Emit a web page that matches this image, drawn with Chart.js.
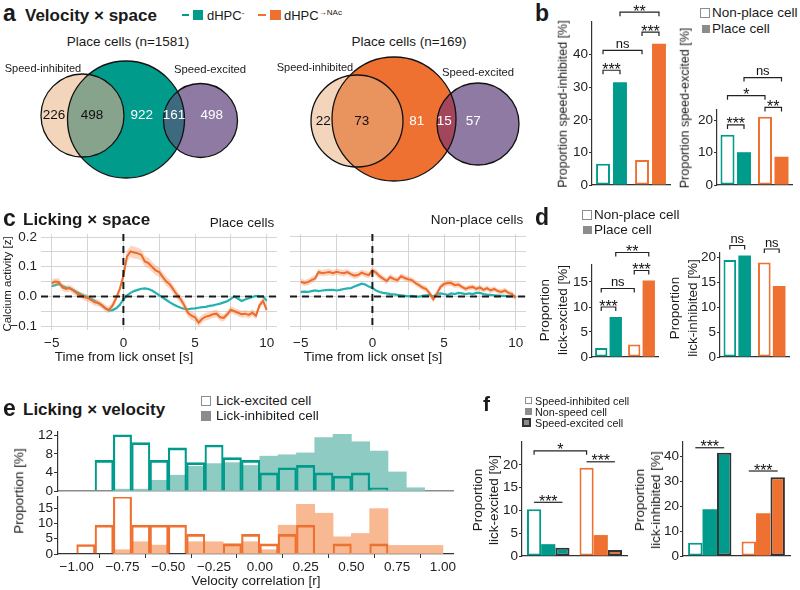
<!DOCTYPE html>
<html>
<head>
<meta charset="utf-8">
<script src="https://cdn.jsdelivr.net/npm/chart.js@4.4.1/dist/chart.umd.min.js"></script>
<style>
html, body { margin: 0; padding: 0; background: #fff; }
#fig { position: relative; width: 800px; height: 590px; overflow: hidden; background: #fff;
       font-family: 'Liberation Sans', Arial, sans-serif; color: #1a1a1a; }
#fig canvas { position: absolute; }
.tx { position: absolute; white-space: nowrap; line-height: 1; text-align: center; }
.tx sup { font-size: 62%; vertical-align: 0.55em; line-height: 0; }
.sq { position: absolute; box-sizing: border-box; }
</style>
</head>
<body>
<div id="fig"></div>
<script>
// ---- data ----
const groups = ['dHPC-', 'dHPC→NAc'];

// a: venn counts [inh only, inh∩place, place only, place∩exc, exc only]
const vennDhpc = [226, 498, 922, 161, 498];
const vennNac = [22, 73, 81, 15, 57];

// b: speed modulation [%]
const speedInhNonPlace = [6.5, 7.7];
const speedInhPlace = [31.5, 43.3];
const speedExcNonPlace = [15.5, 21.0];
const speedExcPlace = [10.1, 8.7];
const bTicksL = [0, 10, 20, 30, 40];
const bTicksR = [0, 10, 20];

// c: calcium traces around lick onset
const cTime = [
  -5, -4.75, -4.5, -4.25, -4, -3.75, -3.5, -3.25, -3, -2.75,
  -2.5, -2.25, -2, -1.75, -1.5, -1.25, -1, -0.75, -0.5, -0.25,
  0, 0.25, 0.5, 0.75, 1, 1.25, 1.5, 1.75, 2, 2.25,
  2.5, 2.75, 3, 3.25, 3.5, 3.75, 4, 4.25, 4.5, 4.75,
  5, 5.25, 5.5, 5.75, 6, 6.25, 6.5, 6.75, 7, 7.25,
  7.5, 7.75, 8, 8.25, 8.5, 8.75, 9, 9.25, 9.5, 9.75,
  10];
const cPlaceTeal = [
  0.035, 0.038, 0.042, 0.035, 0.030, 0.028, 0.022, 0.015, 0.008, 0.003,
  -0.002, -0.008, -0.015, -0.022, -0.030, -0.040, -0.048, -0.046, -0.040, -0.028,
  -0.010, 0.004, 0.012, 0.018, 0.022, 0.026, 0.027, 0.025, 0.020, 0.012,
  0.004, -0.004, -0.012, -0.020, -0.027, -0.033, -0.038, -0.042, -0.043, -0.041,
  -0.040, -0.038, -0.036, -0.035, -0.032, -0.030, -0.027, -0.024, -0.020, -0.016,
  -0.008, 0.000, -0.008, -0.015, -0.010, -0.006, -0.002, 0.002, 0.000, 0.000,
  -0.015];
const cPlaceOrange = [
  0.045, 0.050, 0.048, 0.030, 0.025, 0.028, 0.020, 0.010, 0.005, -0.002,
  -0.005, -0.012, -0.020, -0.022, -0.030, -0.040, -0.045, -0.030, -0.005, 0.025,
  0.070, 0.135, 0.152, 0.148, 0.145, 0.140, 0.118, 0.112, 0.100, 0.088,
  0.082, 0.065, 0.050, 0.040, 0.022, 0.005, -0.010, -0.030, -0.055, -0.065,
  -0.070, -0.088, -0.075, -0.068, -0.065, -0.060, -0.058, -0.070, -0.072, -0.060,
  -0.045, -0.050, -0.055, -0.060, -0.058, -0.062, -0.055, -0.065, -0.030, -0.015,
  -0.045];
const cPlaceSem = [
  0.012, 0.012, 0.013, 0.012, 0.012, 0.011, 0.012, 0.012, 0.011, 0.012,
  0.012, 0.011, 0.012, 0.012, 0.011, 0.012, 0.011, 0.012, 0.012, 0.013,
  0.015, 0.018, 0.020, 0.020, 0.019, 0.019, 0.018, 0.018, 0.017, 0.017,
  0.016, 0.016, 0.016, 0.015, 0.015, 0.015, 0.015, 0.015, 0.014, 0.014,
  0.014, 0.014, 0.014, 0.013, 0.013, 0.013, 0.013, 0.013, 0.012, 0.012,
  0.012, 0.012, 0.012, 0.012, 0.012, 0.012, 0.012, 0.012, 0.012, 0.012,
  0.012];
const cNonTeal = [
  0.015, 0.016, 0.015, 0.018, 0.020, 0.018, 0.020, 0.021, 0.022, 0.022,
  0.020, 0.022, 0.025, 0.027, 0.028, 0.033, 0.038, 0.043, 0.040, 0.033,
  0.028, 0.020, 0.015, 0.012, 0.010, 0.008, 0.007, 0.005, 0.004, 0.002,
  0.000, 0.002, 0.000, -0.001, 0.002, 0.004, 0.005, 0.000, 0.008, 0.010,
  0.008, 0.005, 0.010, 0.008, 0.012, 0.010, 0.008, 0.010, 0.008, 0.012,
  0.012, 0.008, 0.006, 0.005, 0.004, 0.003, 0.002, 0.002, 0.000, 0.001,
  0.000];
const cNonOrange = [
  0.050, 0.045, 0.048, 0.055, 0.060, 0.082, 0.078, 0.080, 0.082, 0.078,
  0.083, 0.080, 0.078, 0.082, 0.075, 0.070, 0.072, 0.080, 0.075, 0.072,
  0.088, 0.080, 0.068, 0.060, 0.052, 0.065, 0.058, 0.055, 0.068, 0.062,
  0.058, 0.055, 0.045, 0.038, 0.030, 0.025, 0.010, -0.010, 0.010, 0.032,
  0.042, 0.045, 0.045, 0.038, 0.040, 0.032, 0.025, 0.030, 0.032, 0.025,
  0.030, 0.022, 0.028, 0.020, 0.025, 0.018, 0.015, 0.020, 0.012, 0.008,
  -0.005];
const cNonSem = [
  0.010, 0.010, 0.011, 0.011, 0.011, 0.011, 0.010, 0.011, 0.011, 0.010,
  0.010, 0.011, 0.011, 0.010, 0.010, 0.011, 0.011, 0.010, 0.011, 0.011,
  0.011, 0.011, 0.011, 0.010, 0.010, 0.011, 0.010, 0.010, 0.010, 0.010,
  0.010, 0.010, 0.010, 0.010, 0.010, 0.010, 0.010, 0.010, 0.010, 0.010,
  0.010, 0.010, 0.010, 0.010, 0.010, 0.009, 0.009, 0.009, 0.009, 0.009,
  0.009, 0.009, 0.009, 0.009, 0.009, 0.009, 0.009, 0.009, 0.009, 0.009,
  0.009];
const cTicksX = [-5, -2.5, 0, 2.5, 5, 7.5, 10];
const cTicksY = [-0.1, -0.05, 0, 0.05, 0.1, 0.15, 0.2];

// d: lick modulation [%]
const lickExcNonPlace = [1.8, 2.5];
const lickExcPlace = [8.0, 15.3];
const lickInhNonPlace = [19.4, 18.9];
const lickInhPlace = [20.3, 14.2];
const dTicksL = [0, 5, 10, 15];
const dTicksR = [0, 5, 10, 15, 20];

// e: histograms of velocity correlation (bin centres, width 0.1)
const eBins = [-0.95, -0.85, -0.75, -0.65, -0.55, -0.45, -0.35, -0.25, -0.15, -0.05,
               0.05, 0.15, 0.25, 0.35, 0.45, 0.55, 0.65, 0.75, 0.85, 0.95];
const eTealExc = [0, 6.6, 12.1, 10.4, 6.6, 9.3, 6.1, 9.9, 7.2, 6.6,
                  3.9, 5.0, 5.5, 3.9, 3.2, 3.9, 0.7, 0, 0, 0];
const eTealInh = [0, 0, 0.4, 0.4, 2.3, 3.4, 5.3, 5.9, 6.1, 5.5,
                  7.5, 7.8, 8.2, 11.5, 12.2, 10.6, 8.6, 4.1, 0.7, 0];
const eOrangeExc = [3.1, 9.4, 18.9, 9.4, 9.4, 9.4, 6.4, 0, 3.3, 6.4,
                    3.3, 6.4, 9.4, 0, 3.3, 0, 3.3, 0, 0, 0];
const eOrangeInh = [0, 0, 1.4, 4.0, 2.9, 0, 4.0, 4.0, 3.4, 4.0,
                    1.4, 9.4, 16.2, 13.3, 5.6, 6.7, 14.8, 2.8, 2.8, 2.8];
const eTicksX = [-1, -0.75, -0.5, -0.25, 0, 0.25, 0.5, 0.75, 1];
const eTicksTop = [0, 4, 8, 12];
const eTicksBot = [0, 5, 10, 15];

// f: lick modulation by speed class [%]
const fExcSpeedInh = [10.3, 19.4];
const fExcNonSpeed = [2.6, 4.6];
const fExcSpeedExc = [1.8, 1.3];
const fInhSpeedInh = [5.3, 5.8];
const fInhNonSpeed = [18.7, 17.1];
const fInhSpeedExc = [41.3, 31.5];
const fTicksL = [0, 5, 10, 15, 20];
const fTicksR = [0, 10, 20, 30, 40];

// ---- styles ----
const teal = '#009b8b', orange = '#ef7131';
const tealFill = '#8ecbc3', orangeFill = '#f7b892';
const tealLine = '#22b3b1', orangeLine = '#ee6b2b';
const band = 'rgba(244,150,95,0.38)';
const axisCol = '#333', gridCol = '#d5d5d8', legendGray = '#8c8c8c';
const pair = [teal, orange];

Chart.defaults.font.family = "'Liberation Sans', Arial, sans-serif";
Chart.defaults.font.size = 13.5;
Chart.defaults.color = '#222';

const fig = document.getElementById('fig');

function T(html, x, y, o = {}) {
  const d = document.createElement('div');
  d.className = 'tx';
  d.innerHTML = html;
  d.style.fontSize = (o.size || 13.5) + 'px';
  if (o.bold) d.style.fontWeight = 'bold';
  if (o.lh) d.style.lineHeight = o.lh + 'px';
  d.style.left = x + 'px';
  d.style.top = y + 'px';
  const ax = o.align === 'l' ? '0' : o.align === 'r' ? '-100%' : '-50%';
  d.style.transform = `translate(${ax}, -50%)` + (o.rot ? ' rotate(-90deg)' : '');
  fig.appendChild(d);
}

function sq(x, y, w, h, bg, border) {
  const d = document.createElement('div');
  d.className = 'sq';
  d.style.cssText += `left:${x}px;top:${y}px;width:${w}px;height:${h}px;background:${bg};` + (border ? `border:${border};` : '');
  fig.appendChild(d);
}

function place(area, pad) {
  const [x0, y0, x1, y1] = area, [pl, pt, pr, pb] = pad;
  const cv = document.createElement('canvas');
  cv.width = x1 - x0 + pl + pr;
  cv.height = y1 - y0 + pt + pb;
  cv.style.left = (x0 - pl) + 'px';
  cv.style.top = (y0 - pt) + 'px';
  fig.appendChild(cv);
  return cv;
}

function baseOpts(pad) {
  return {
    responsive: false, animation: false, events: [],
    layout: { padding: { left: 0, top: pad[1], right: pad[2], bottom: 0 } },
    plugins: { legend: { display: false }, tooltip: { enabled: false } }
  };
}

const minus = v => (v < -1e-9 ? '−' : '');

// significance brackets, anchored on bar elements
function sigPlugin(marks) {
  return {
    id: 'sig',
    afterDatasetsDraw(chart) {
      const ctx = chart.ctx, y = chart.scales.y;
      ctx.save();
      ctx.strokeStyle = '#222';
      ctx.lineWidth = 1.2;
      ctx.fillStyle = '#111';
      ctx.textAlign = 'center';
      ctx.textBaseline = 'alphabetic';
      marks.forEach(m => {
        const xa = chart.getDatasetMeta(m.a[0]).data[m.a[1]].x;
        const xb = chart.getDatasetMeta(m.b[0]).data[m.b[1]].x;
        const yy = y.getPixelForValue(m.y);
        ctx.beginPath();
        if (m.tick !== false) {
          ctx.moveTo(xa, yy + 4); ctx.lineTo(xa, yy); ctx.lineTo(xb, yy); ctx.lineTo(xb, yy + 4);
        } else {
          ctx.moveTo(xa, yy); ctx.lineTo(xb, yy);
        }
        ctx.stroke();
        if (m.t === 'ns') {
          ctx.font = "13px 'Liberation Sans', Arial";
          ctx.fillText(m.t, (xa + xb) / 2, yy - 2.5);
        } else {
          ctx.font = "16px 'Liberation Sans', Arial";
          ctx.fillText(m.t, (xa + xb) / 2, yy + 4.5);
        }
      });
      ctx.restore();
    }
  };
}

function barChart(area, pad, cfg) {
  const cv = place(area, pad);
  return new Chart(cv, {
    type: 'bar',
    data: { labels: groups, datasets: cfg.sets },
    options: {
      ...baseOpts(pad),
      datasets: { bar: { categoryPercentage: cfg.cp, barPercentage: cfg.bp } },
      scales: {
        x: {
          offset: true,
          grid: { display: false },
          ticks: { display: false },
          border: { color: axisCol, width: 1.2 },
          afterFit: s => { s.height = pad[3]; }
        },
        y: {
          min: 0, max: cfg.max,
          afterBuildTicks: s => { s.ticks = cfg.ticks.map(v => ({ value: v })); },
          ticks: { padding: 1, autoSkip: false, callback: v => String(v) },
          grid: { drawOnChartArea: false, tickLength: 3, color: axisCol },
          border: { color: axisCol, width: 1.2 },
          afterFit: s => { s.width = pad[0]; }
        }
      }
    },
    plugins: [sigPlugin(cfg.marks)]
  });
}

const outlineSet = vals => ({ data: vals, backgroundColor: '#fff', borderColor: pair, borderWidth: 2, borderSkipped: false });
const solidSet = vals => ({ data: vals, backgroundColor: pair, borderWidth: 0 });
const rimSet = vals => ({ data: vals, backgroundColor: pair, borderColor: '#333', borderWidth: 2, borderSkipped: false });

// dashed zero lines for the traces
const zeroLines = {
  id: 'zero',
  afterDatasetsDraw(chart) {
    const { ctx, chartArea: a, scales: { x, y } } = chart;
    const py = y.getPixelForValue(0), px = x.getPixelForValue(0);
    ctx.save();
    ctx.strokeStyle = '#1a1a1a';
    ctx.lineWidth = 2;
    ctx.setLineDash([7, 5]);
    ctx.beginPath();
    ctx.moveTo(a.left, py); ctx.lineTo(a.right, py);
    ctx.moveTo(px, a.top); ctx.lineTo(px, a.bottom);
    ctx.stroke();
    ctx.restore();
  }
};

function traceChart(area, pad, tealVals, orangeVals, sem, showY) {
  const cv = place(area, pad);
  const pts = f => cTime.map((t, i) => ({ x: t, y: f(i) }));
  const clear = 'rgba(0,0,0,0)';
  return new Chart(cv, {
    type: 'line',
    data: {
      datasets: [
        { data: pts(i => orangeVals[i]), borderColor: orangeLine, borderWidth: 2, pointRadius: 0, fill: false },
        { data: pts(i => orangeVals[i] + sem[i]), borderColor: clear, borderWidth: 0, pointRadius: 0, backgroundColor: band, fill: '+1' },
        { data: pts(i => orangeVals[i] - sem[i]), borderColor: clear, borderWidth: 0, pointRadius: 0, fill: false },
        { data: pts(i => tealVals[i]), borderColor: tealLine, borderWidth: 2.2, pointRadius: 0, fill: false }
      ]
    },
    options: {
      ...baseOpts(pad),
      scales: {
        x: {
          type: 'linear', min: -5.75, max: 10.72,
          afterBuildTicks: s => { s.ticks = cTicksX.map(v => ({ value: v })); },
          ticks: { padding: 5, autoSkip: false, maxRotation: 0,
                   callback: v => (v % 5 === 0 ? minus(v) + Math.abs(v) : '') },
          grid: { color: gridCol, drawTicks: false },
          border: { display: false },
          afterFit: s => { s.height = pad[3]; }
        },
        y: {
          min: -0.113, max: 0.21,
          afterBuildTicks: s => { s.ticks = cTicksY.map(v => ({ value: v })); },
          ticks: { display: showY, padding: 4, autoSkip: false,
                   callback: v => (Math.abs(Math.round(v * 10) - v * 10) < 1e-6 ? minus(v) + Math.abs(v).toFixed(1) : '') },
          grid: { color: gridCol, drawTicks: false },
          border: { display: false },
          afterFit: s => { s.width = pad[0]; }
        }
      }
    },
    plugins: [zeroLines]
  });
}

function histChart(area, pad, exc, inh, edge, fillCol, max, ticksY, bottom) {
  const cv = place(area, pad);
  const pts = arr => eBins.map((b, i) => ({ x: b, y: arr[i] || null }));
  return new Chart(cv, {
    type: 'bar',
    data: {
      datasets: [
        { data: pts(exc), backgroundColor: 'rgba(0,0,0,0)', borderColor: edge,
          borderWidth: { top: 2, left: 1.5, right: 1.5, bottom: 0 }, borderSkipped: 'start' },
        { data: pts(inh), backgroundColor: fillCol, borderWidth: 0 }
      ]
    },
    options: {
      ...baseOpts(pad),
      datasets: { bar: { grouped: false, categoryPercentage: 1, barPercentage: 1 } },
      scales: {
        x: {
          type: 'linear', min: -1.102, max: 1.055, offset: false,
          afterBuildTicks: s => { s.ticks = eTicksX.map(v => ({ value: v })); },
          ticks: { display: bottom, padding: 1, autoSkip: false, maxRotation: 0,
                   callback: v => minus(v) + Math.abs(v).toFixed(2) },
          grid: { display: bottom, drawOnChartArea: false, tickLength: 4, color: axisCol },
          border: { color: bottom ? axisCol : '#8a8a8a', width: bottom ? 1.2 : 1.6 },
          afterFit: s => { s.height = pad[3]; }
        },
        y: {
          min: 0, max: max,
          afterBuildTicks: s => { s.ticks = ticksY.map(v => ({ value: v })); },
          ticks: { padding: 1, autoSkip: false, callback: v => String(v) },
          grid: { drawOnChartArea: false, tickLength: 4, color: axisCol },
          border: { color: axisCol, width: 1.2 },
          afterFit: s => { s.width = pad[0]; }
        }
      }
    }
  });
}

function vennPlugin(geo, counts) {
  return {
    id: 'venn',
    afterDraw(chart) {
      const { ctx, scales: { x, y } } = chart;
      const C = geo.circles.map(c => ({
        px: x.getPixelForValue(c.cx), py: y.getPixelForValue(c.cy),
        r: x.getPixelForValue(c.cx + c.r) - x.getPixelForValue(c.cx)
      }));
      const path = c => { ctx.beginPath(); ctx.arc(c.px, c.py, c.r, 0, 2 * Math.PI); };
      ctx.save();
      C.forEach((c, i) => { path(c); ctx.fillStyle = geo.fills[i]; ctx.fill(); });
      [[0, 1], [1, 2]].forEach(([a, b], k) => {
        ctx.save(); path(C[a]); ctx.clip();
        path(C[b]); ctx.fillStyle = geo.overlaps[k]; ctx.fill();
        ctx.restore();
      });
      ctx.strokeStyle = '#111';
      ctx.lineWidth = 1.3;
      C.forEach(c => { path(c); ctx.stroke(); });
      ctx.font = "13.5px 'Liberation Sans', Arial";
      ctx.textAlign = 'center';
      ctx.textBaseline = 'middle';
      counts.forEach((n, i) => {
        ctx.fillStyle = geo.textColors[i];
        ctx.fillText(String(n), x.getPixelForValue(geo.labelX[i]), y.getPixelForValue(geo.labelY));
      });
      ctx.restore();
    }
  };
}

function vennChart(box, geo, counts) {
  const cv = place(box, [0, 0, 0, 0]);
  return new Chart(cv, {
    type: 'scatter',
    data: { datasets: [] },
    options: {
      ...baseOpts([0, 0, 0, 0]),
      scales: {
        x: { display: false, min: box[0], max: box[2] },
        y: { display: false, min: box[1], max: box[3], reverse: true }
      }
    },
    plugins: [vennPlugin(geo, counts)]
  });
}

// ---- panel a ----
const vennText = ['#111', '#111', '#fff', '#fff', '#fff'];
vennChart([0, 50, 272, 200], {
  circles: [{ cx: 82.5, cy: 115.5, r: 41.5 }, { cx: 126, cy: 119.5, r: 58.5 }, { cx: 200.5, cy: 120.5, r: 37 }],
  fills: ['#f3d5bb', teal, '#8e7aa2'], overlaps: ['#87a38b', '#3c6b80'],
  labelX: [54, 92, 141.7, 174, 211.7], labelY: 115, textColors: vennText
}, vennDhpc);
vennChart([274, 50, 540, 200], {
  circles: [{ cx: 357, cy: 121, r: 46 }, { cx: 394, cy: 119, r: 62 }, { cx: 478, cy: 124, r: 41 }],
  fills: ['#f3d5bb', orange, '#8e7aa2'], overlaps: ['#e9935e', '#a3465c'],
  labelX: [323.3, 361.7, 416.7, 444.3, 473.3], labelY: 121, textColors: vennText
}, vennNac);

T('a', 3, 13, { size: 23, bold: true, align: 'l' });
T('Velocity × space', 25, 15, { size: 17, bold: true, align: 'l' });
sq(182, 14, 7, 2, teal); sq(193, 10, 10, 10, teal);
T('dHPC<sup>-</sup>', 207, 15, { align: 'l', size: 13 });
sq(258, 14, 8, 2, orange); sq(270, 10, 11, 10, orange);
T('dHPC<sup>→NAc</sup>', 284, 15, { align: 'l', size: 13 });
T('Place cells (n=1581)', 128, 42);
T('Place cells (n=169)', 409, 42);
T('Speed-inhibited', 43, 68, { size: 11 });
T('Speed-excited', 210, 69.5, { size: 11.3 });
T('Speed-inhibited', 315, 67, { size: 11 });
T('Speed-excited', 478, 72.5, { size: 11.3 });

// ---- panel b ----
barChart([592, 22, 670, 185], [30, 20, 8, 12], {
  sets: [outlineSet(speedInhNonPlace), solidSet(speedInhPlace)],
  max: 50, ticks: bTicksL, cp: 0.87, bp: 0.82,
  marks: [
    { a: [0, 0], b: [1, 0], y: 35.2, t: '***' },
    { a: [0, 0], b: [0, 1], y: 41.3, t: 'ns' },
    { a: [0, 1], b: [1, 1], y: 46.9, t: '***' },
    { a: [1, 0], b: [1, 1], y: 53, t: '**' }
  ]
});
barChart([717, 110, 792, 185], [30, 45, 6, 12], {
  sets: [outlineSet(speedExcNonPlace), solidSet(speedExcPlace)],
  max: 23.1, ticks: bTicksR, cp: 0.88, bp: 0.85,
  marks: [
    { a: [0, 0], b: [1, 0], y: 18.5, t: '***' },
    { a: [0, 1], b: [1, 1], y: 23.9, t: '**' },
    { a: [0, 0], b: [0, 1], y: 27.5, t: '*' },
    { a: [1, 0], b: [1, 1], y: 33.1, t: 'ns' }
  ]
});
T('b', 535, 13, { size: 23, bold: true, align: 'l' });
sq(700, 8, 10, 10, '#fff', '1.6px solid ' + legendGray);
T('Non-place cell', 712, 13, { align: 'l' });
sq(702, 25, 8, 8, legendGray);
T('Place cell', 712, 29, { align: 'l' });
T('Proportion speed-inhibited [%]', 562.5, 104, { rot: true, size: 12.5 });
T('Proportion speed-excited [%]', 685, 108, { rot: true, size: 12.5 });

// ---- panel c ----
traceChart([41, 234, 277, 330], [41, 12, 12, 22], cPlaceTeal, cPlaceOrange, cPlaceSem, true);
traceChart([290, 234, 526, 330], [4, 12, 12, 22], cNonTeal, cNonOrange, cNonSem, false);
T('c', 3, 218, { size: 23, bold: true, align: 'l' });
T('Licking × space', 23, 219, { size: 17, bold: true, align: 'l' });
T('Place cells', 242, 223);
T('Non-place cells', 477, 220);
T('Calcium activity [z]', 8, 284, { rot: true, size: 11.5 });
T('Time from lick onset [s]', 124, 357);
T('Time from lick onset [s]', 373, 357);

// ---- panel d ----
barChart([592, 265, 658, 357], [30, 25, 6, 12], {
  sets: [outlineSet(lickExcNonPlace), solidSet(lickExcPlace)],
  max: 18.4, ticks: dTicksL, cp: 0.88, bp: 0.85,
  marks: [
    { a: [0, 0], b: [1, 0], y: 10.0, t: '***' },
    { a: [0, 0], b: [0, 1], y: 13.7, t: 'ns' },
    { a: [0, 1], b: [1, 1], y: 17.3, t: '***' },
    { a: [1, 0], b: [1, 1], y: 20.9, t: '**' }
  ]
});
barChart([720, 253, 789, 357], [30, 25, 8, 12], {
  sets: [outlineSet(lickInhNonPlace), solidSet(lickInhPlace)],
  max: 20.8, ticks: dTicksR, cp: 0.86, bp: 0.85,
  marks: [
    { a: [0, 0], b: [1, 0], y: 22.3, t: 'ns' },
    { a: [0, 1], b: [1, 1], y: 21.6, t: 'ns' }
  ]
});
T('d', 535, 217, { size: 23, bold: true, align: 'l' });
sq(582, 210, 10, 10, '#fff', '1.6px solid ' + legendGray);
T('Non-place cell', 594, 214.5, { align: 'l' });
sq(583, 226, 9, 8, legendGray);
T('Place cell', 594, 230, { align: 'l' });
T('Proportion<br>lick-excited [%]', 554, 310, { rot: true, lh: 18 });
T('Proportion<br>lick-inhibited [%]', 684, 308, { rot: true, lh: 18 });

// ---- panel e ----
histChart([58, 432, 453, 491], [40, 12, 12, 10], eTealExc, eTealInh, teal, tealFill, 12.7, eTicksTop, false);
histChart([58, 497, 453, 554], [40, 12, 12, 20], eOrangeExc, eOrangeInh, orange, orangeFill, 18.6, eTicksBot, true);
T('e', 3, 408, { size: 23, bold: true, align: 'l' });
T('Licking × velocity', 23, 409, { size: 17, bold: true, align: 'l' });
sq(201, 396, 10, 10, '#fff', '1.6px solid ' + legendGray);
T('Lick-excited cell', 216, 401, { align: 'l' });
sq(201, 411, 10, 10, legendGray);
T('Lick-inhibited cell', 216, 416, { align: 'l' });
T('Proportion [%]', 19, 491, { rot: true });
T('Velocity correlation [r]', 256, 581);

// ---- panel f ----
barChart([522, 442, 627, 556], [30, 12, 6, 12], {
  sets: [outlineSet(fExcSpeedInh), solidSet(fExcNonSpeed), rimSet(fExcSpeedExc)],
  max: 25.05, ticks: fTicksL, cp: 0.81, bp: 1.0,
  marks: [
    { a: [0, 0], b: [2, 0], y: 11.8, t: '***', tick: false },
    { a: [0, 0], b: [0, 1], y: 23.1, t: '*' },
    { a: [0, 1], b: [2, 1], y: 20.7, t: '***', tick: false }
  ]
});
barChart([683, 442, 790, 556], [30, 14, 8, 12], {
  sets: [outlineSet(fInhSpeedInh), solidSet(fInhNonSpeed), rimSet(fInhSpeedExc)],
  max: 45.6, ticks: fTicksR, cp: 0.81, bp: 1.0,
  marks: [
    { a: [0, 0], b: [2, 0], y: 43.3, t: '***', tick: false },
    { a: [0, 1], b: [2, 1], y: 34, t: '***', tick: false }
  ]
});
T('f', 483, 403, { size: 21, bold: true, align: 'l' });
sq(525, 397, 7, 7, '#fff', '1.5px solid ' + legendGray);
T('Speed-inhibited cell', 535, 400.5, { align: 'l', size: 10.8 });
sq(525, 408, 7, 7, legendGray);
T('Non-speed cell', 535, 411.5, { align: 'l', size: 10.8 });
sq(522, 418, 9, 9, legendGray, '2px solid #333');
T('Speed-excited cell', 535, 422.5, { align: 'l', size: 10.8 });
T('Proportion<br>lick-excited [%]', 486, 500, { rot: true, lh: 16 });
T('Proportion<br>lick-inhibited [%]', 648, 500, { rot: true, lh: 16 });
</script>
</body>
</html>
